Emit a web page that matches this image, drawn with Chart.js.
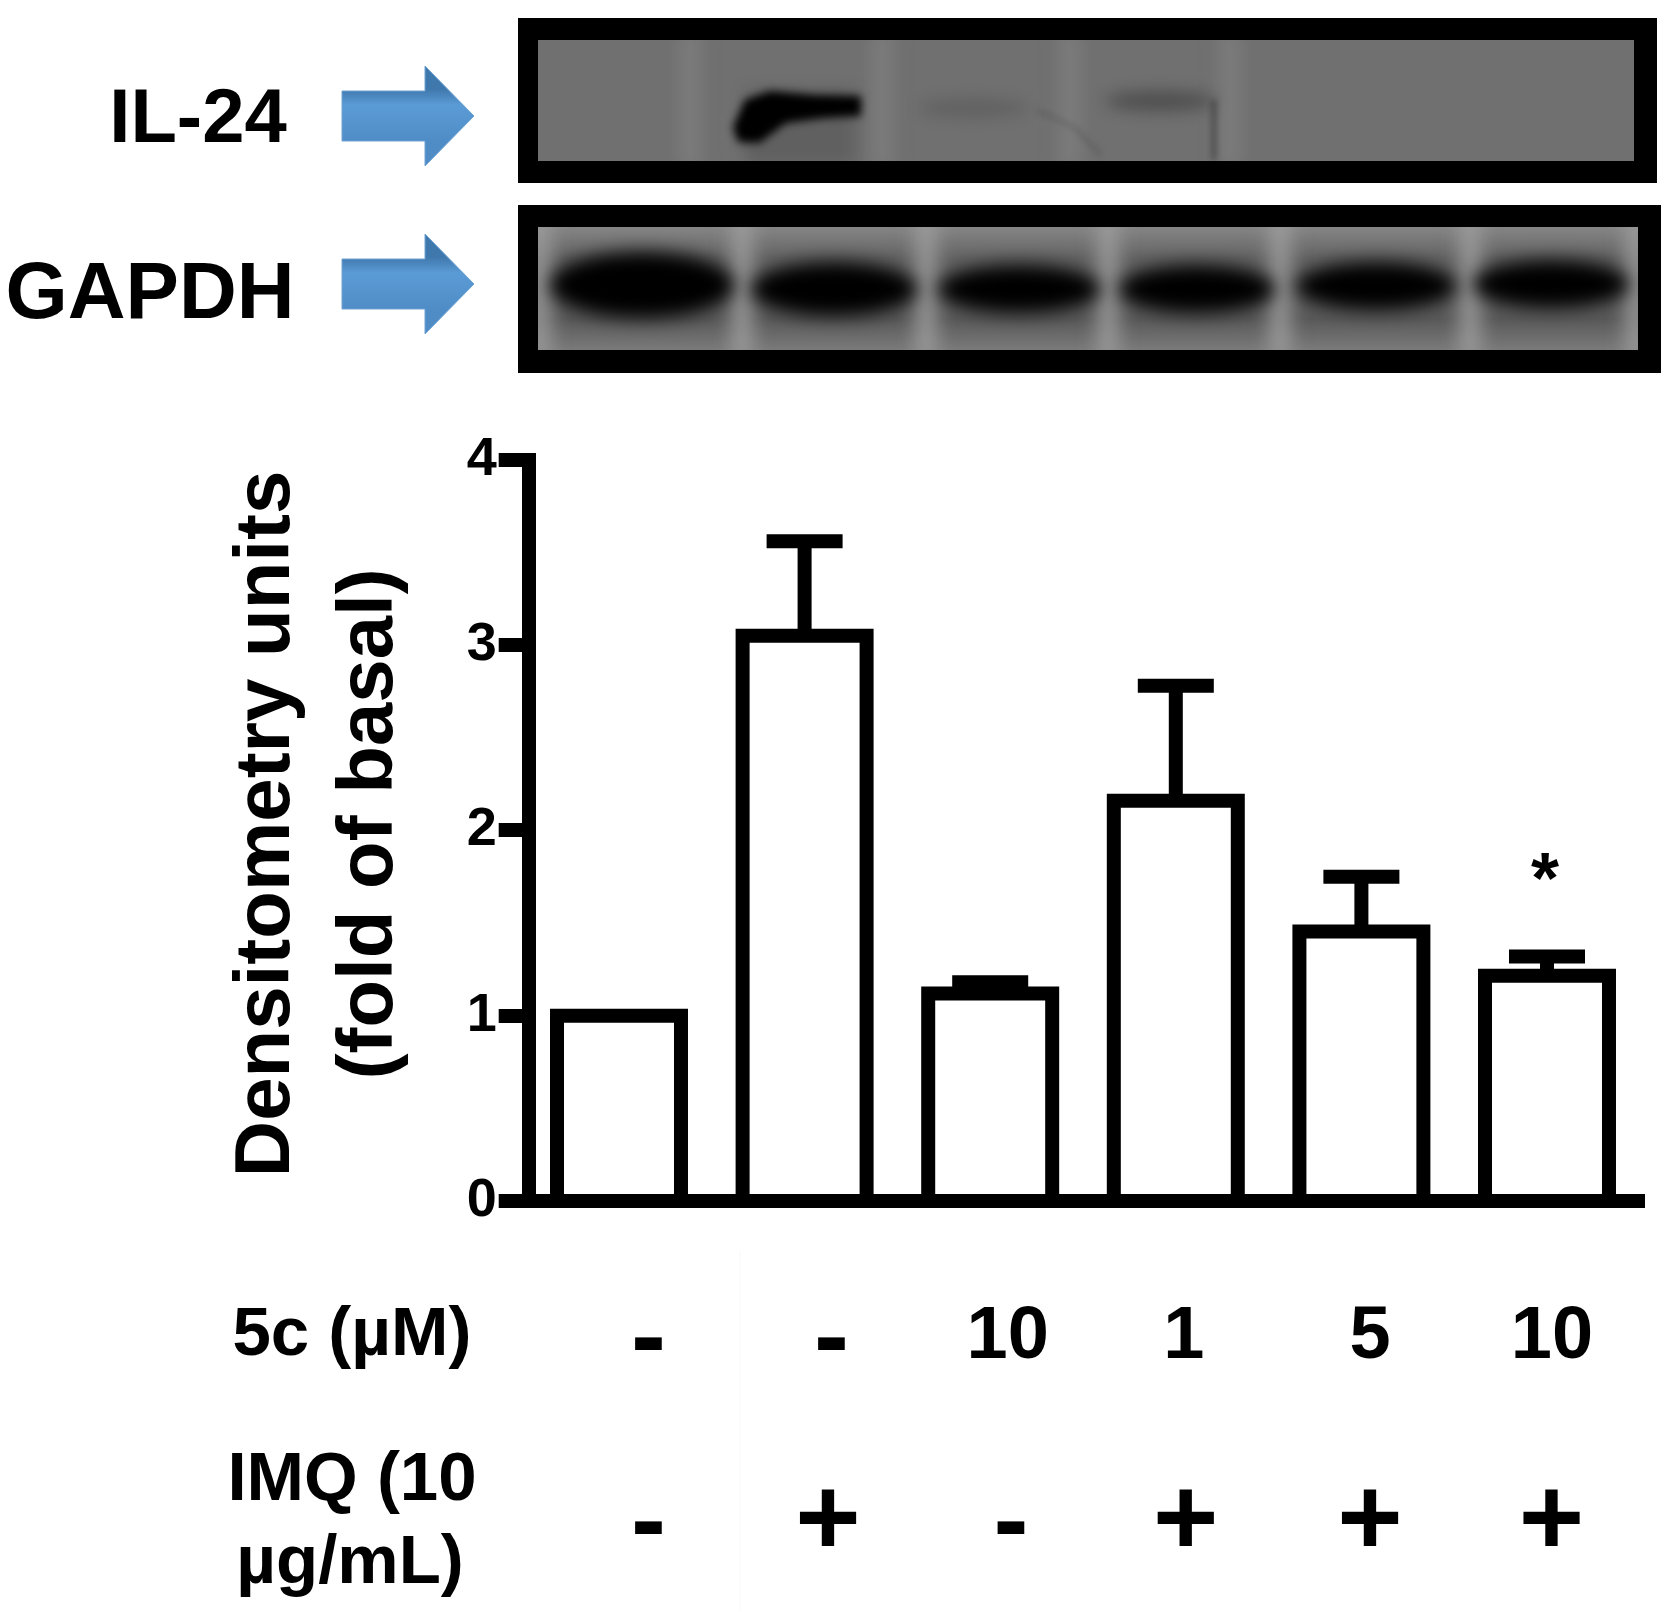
<!DOCTYPE html>
<html>
<head>
<meta charset="utf-8">
<title>IL-24 densitometry</title>
<script src="https://cdn.jsdelivr.net/npm/chart.js@4"></script>
<style>
  html, body { margin: 0; padding: 0; background: #fff; }
  canvas { display: block; }
</style>
</head>
<body>
<canvas id="chart" width="1677" height="1622"></canvas>
<script>
// Values
const fiveCRow = ['-', '-', '10', '1', '5', '10'];
const imqRow = ['-', '+', '-', '+', '+', '+'];
const categories = fiveCRow.map((v, i) => `${v} / ${imqRow[i]}`);
const meanValues = [1.0, 3.05, 1.12, 2.16, 1.455, 1.215];
const errorTops = [1.0, 3.56, 1.18, 2.78, 1.75, 1.32];
const starred = [false, false, false, false, false, true];

const FONT = '"Liberation Sans", Arial, sans-serif';

// The treatment columns do not sit exactly under the bars in the original
const fiveCNudge = [29.5, 27, 17.5, 8, 8.6, 5];
const imqNudge = [29.5, 23.4, 20.8, 10, 8.6, 4.5];

function text(ctx, str, x, y, font, align) {
  ctx.font = font;
  ctx.textAlign = align || 'center';
  ctx.textBaseline = 'alphabetic';
  ctx.fillStyle = '#000';
  ctx.fillText(str, x, y);
}

function blurred(ctx, px, fn) {
  ctx.save();
  ctx.filter = `blur(${px}px)`;
  fn();
  ctx.restore();
}

function ellipse(ctx, cx, cy, rx, ry, color) {
  ctx.fillStyle = color;
  ctx.beginPath();
  ctx.ellipse(cx, cy, rx, ry, 0, 0, Math.PI * 2);
  ctx.fill();
}

function strip(ctx, x, top, bottom, w, color) {
  ctx.fillStyle = color;
  ctx.fillRect(x - w / 2, top, w, bottom - top);
}

function drawIl24Blot(ctx) {
  ctx.fillStyle = '#000';
  ctx.fillRect(518, 18, 1139, 165);
  ctx.save();
  ctx.beginPath();
  ctx.rect(538, 40, 1096, 121);
  ctx.clip();
  ctx.fillStyle = '#707070';
  ctx.fillRect(538, 40, 1096, 121);
  blurred(ctx, 9, () => {
    [690, 882, 1070, 1230].forEach(x => strip(ctx, x, 30, 170, 18, '#7e7e7e'));
  });
  blurred(ctx, 8, () => {
    ellipse(ctx, 973, 108, 55, 9, 'rgba(0,0,0,0.14)');
    ellipse(ctx, 1160, 101, 55, 10, 'rgba(0,0,0,0.3)');
    strip(ctx, 800, 90, 165, 110, 'rgba(0,0,0,0.14)');
  });
  blurred(ctx, 3, () => {
    strip(ctx, 1214, 100, 160, 3, 'rgba(0,0,0,0.55)');
    ctx.strokeStyle = 'rgba(0,0,0,0.18)';
    ctx.lineWidth = 3;
    ctx.beginPath();
    ctx.moveTo(1037, 110);
    ctx.lineTo(1075, 128);
    ctx.lineTo(1101, 155);
    ctx.stroke();
  });
  blurred(ctx, 4, () => {
    ctx.fillStyle = '#000';
    ctx.beginPath();
    ctx.moveTo(733, 127);
    ctx.lineTo(745, 100);
    ctx.lineTo(770, 91);
    ctx.lineTo(813, 95);
    ctx.lineTo(861, 96);
    ctx.lineTo(861, 116);
    ctx.lineTo(824, 118);
    ctx.lineTo(786, 123);
    ctx.lineTo(759, 143);
    ctx.lineTo(738, 142);
    ctx.closePath();
    ctx.fill();
  });
  ctx.restore();
}

function drawGapdhBlot(ctx) {
  ctx.fillStyle = '#000';
  ctx.fillRect(518, 205, 1143, 168);
  ctx.save();
  ctx.beginPath();
  ctx.rect(538, 227, 1100, 123);
  ctx.clip();
  const g = ctx.createLinearGradient(0, 227, 0, 350);
  g.addColorStop(0, '#858585');
  g.addColorStop(0.25, '#646464');
  g.addColorStop(0.75, '#5a5a5a');
  g.addColorStop(1, '#7a7a7a');
  ctx.fillStyle = g;
  ctx.fillRect(538, 227, 1100, 123);
  blurred(ctx, 10, () => {
    [540, 742, 926, 1108, 1280, 1470, 1636].forEach(x => strip(ctx, x, 215, 360, 18, '#a0a0a0'));
  });
  blurred(ctx, 9, () => {
    ellipse(ctx, 642, 285, 92, 33, '#000');
    ellipse(ctx, 834, 289, 83, 27, '#000');
    ellipse(ctx, 1019, 289, 81, 24, '#000');
    ellipse(ctx, 1197, 289, 78, 24, '#000');
    ellipse(ctx, 1376, 286, 80, 24, '#000');
    ellipse(ctx, 1551, 284, 78, 24, '#000');
  });
  ctx.restore();
}

function drawArrow(ctx, tipY) {
  const g = ctx.createLinearGradient(0, tipY - 27, 0, tipY + 27);
  g.addColorStop(0, '#3f78ad');
  g.addColorStop(0.3, '#5b9bd5');
  g.addColorStop(1, '#4f8cc6');
  ctx.fillStyle = g;
  ctx.strokeStyle = '#6fa3d4';
  ctx.lineWidth = 1;
  ctx.beginPath();
  ctx.moveTo(342, tipY - 25);
  ctx.lineTo(425, tipY - 25);
  ctx.lineTo(425, tipY - 50);
  ctx.lineTo(474, tipY);
  ctx.lineTo(425, tipY + 50);
  ctx.lineTo(425, tipY + 25);
  ctx.lineTo(342, tipY + 25);
  ctx.closePath();
  ctx.fill();
  ctx.stroke();
}

const figurePlugin = {
  id: 'figure',
  // y axis line sits a little right of the first category edge, baseline runs past the last bar
  afterLayout(chart) {
    chart.scales.y.right += 2.5;
    chart.scales.y.bottom -= 13;
    chart.scales.x.right += 5;
  },
  beforeDraw(chart) {
    const ctx = chart.ctx;
    ctx.save();
    drawIl24Blot(ctx);
    drawGapdhBlot(ctx);
    drawArrow(ctx, 116);
    drawArrow(ctx, 284);
    text(ctx, 'IL-24', 198, 142, `bold 76px ${FONT}`);
    text(ctx, 'GAPDH', 150, 318, `bold 80px ${FONT}`);
    ctx.strokeStyle = '#f8f8f8';
    ctx.lineWidth = 1;
    ctx.beginPath();
    ctx.moveTo(740, 1250);
    ctx.lineTo(740, 1610);
    ctx.stroke();
    ctx.restore();
  },
  afterDatasetsDraw(chart) {
    const ctx = chart.ctx;
    const y = chart.scales.y;
    const bars = chart.getDatasetMeta(0).data;
    ctx.save();
    ctx.strokeStyle = '#000';
    ctx.lineJoin = 'miter';
    ctx.lineCap = 'butt';
    ctx.lineWidth = 14;
    bars.forEach((bar, i) => {
      const left = bar.x - bar.width / 2;
      const right = bar.x + bar.width / 2;
      if (errorTops[i] > meanValues[i]) {
        const top = y.getPixelForValue(errorTops[i]);
        ctx.beginPath();
        ctx.moveTo(bar.x, bar.y);
        ctx.lineTo(bar.x, top);
        ctx.moveTo(bar.x - 38, top);
        ctx.lineTo(bar.x + 38, top);
        ctx.stroke();
      }
      ctx.beginPath();
      ctx.moveTo(left, bar.base);
      ctx.lineTo(left, bar.y);
      ctx.lineTo(right, bar.y);
      ctx.lineTo(right, bar.base);
      ctx.stroke();
      if (starred[i]) {
        text(ctx, '*', bar.x - 2, y.getPixelForValue(errorTops[i]) - 53, `bold 72px ${FONT}`);
      }
    });
    ctx.restore();
  },
  afterDraw(chart) {
    const ctx = chart.ctx;
    const x = chart.scales.x;
    ctx.save();
    text(ctx, '5c (\u00b5M)', 352, 1355, `bold 69px ${FONT}`);
    text(ctx, 'IMQ (10', 352, 1500, `bold 69px ${FONT}`);
    text(ctx, '\u00b5g/mL)', 350, 1583, `bold 69px ${FONT}`);
    fiveCRow.forEach((v, i) => {
      const px = x.getPixelForTick(i) + fiveCNudge[i];
      if (v === '-') text(ctx, v, px, 1371, `bold 105px ${FONT}`);
      else text(ctx, v, px, 1358, `bold 74px ${FONT}`);
    });
    imqRow.forEach((v, i) => {
      const px = x.getPixelForTick(i) + imqNudge[i];
      if (v === '-') text(ctx, v, px, 1555, `bold 105px ${FONT}`);
      else text(ctx, v, px, 1555, `bold 112px ${FONT}`);
    });
    ctx.restore();
  }
};

new Chart(document.getElementById('chart'), {
  type: 'bar',
  data: {
    labels: categories,
    datasets: [{
      data: meanValues,
      backgroundColor: '#fff',
      borderWidth: 0,
      categoryPercentage: 1,
      barPercentage: 0.668
    }]
  },
  options: {
    responsive: false,
    animation: false,
    layout: { padding: { top: 459.8, right: 37.2, bottom: 421, left: 0 } },
    plugins: { legend: { display: false }, tooltip: { enabled: false } },
    scales: {
      x: {
        type: 'category',
        afterFit: s => { s.height = 0; },
        grid: { display: false },
        border: { display: true, width: 14, color: '#000' },
        ticks: { display: false }
      },
      y: {
        min: 0,
        max: 4,
        afterFit: s => { s.width = 526.2; },
        title: {
          display: true,
          text: ['Densitometry units', '(fold of basal)'],
          color: '#000',
          font: { family: FONT, size: 78, weight: 'bold', lineHeight: 1.32 },
          padding: { top: 216, bottom: 0 }
        },
        grid: {
          drawOnChartArea: false,
          drawTicks: true,
          lineWidth: 14,
          tickLength: 30,
          tickWidth: 14,
          tickColor: '#000'
        },
        border: { display: true, width: 14, color: '#000' },
        ticks: {
          stepSize: 1,
          color: '#000',
          padding: 2,
          font: { family: FONT, size: 54, weight: 'bold' }
        }
      }
    }
  },
  plugins: [figurePlugin]
});
</script>
</body>
</html>
